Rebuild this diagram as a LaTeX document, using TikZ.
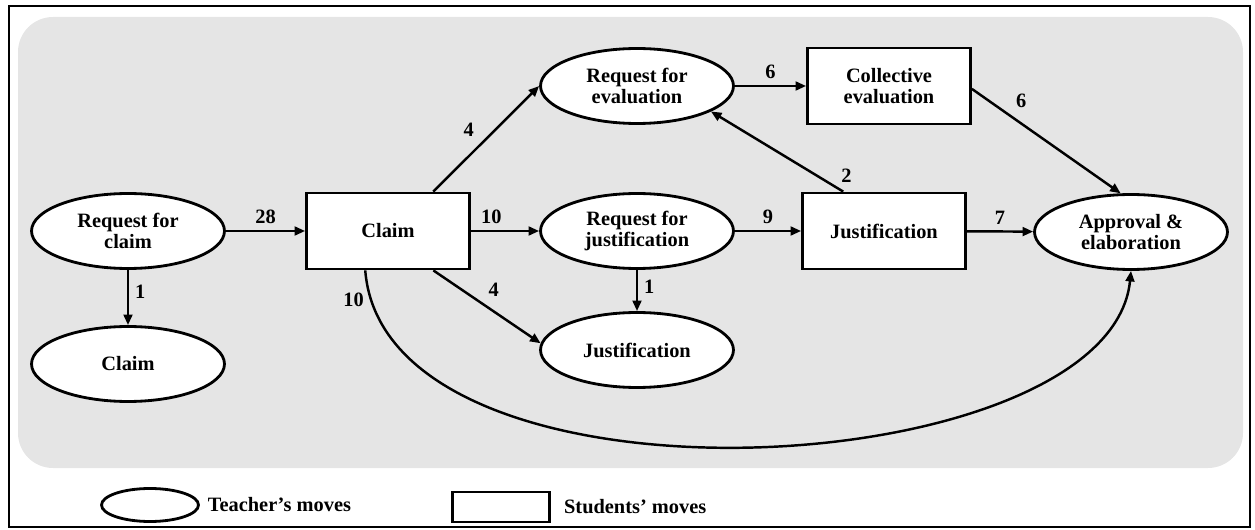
\documentclass[tikz,border=0pt]{standalone}
\usepackage{fontspec}
\setmainfont{Liberation Serif}
\usetikzlibrary{shapes.geometric,arrows.meta,positioning}
\definecolor{panelgray}{RGB}{229,229,229}
\newcommand{\movefont}{\fontsize{11.6}{12.2}\selectfont\bfseries}

\begin{document}
\begin{tikzpicture}[x=0.02cm,y=-0.02cm,
      teacher/.style={ellipse,draw,fill=white,line width=1.6pt,
        minimum width=3.86cm,minimum height=1.5cm,inner sep=0pt,
        align=center,font=\movefont},
      student/.style={rectangle,draw,fill=white,line width=1.6pt,
        minimum width=3.26cm,minimum height=1.52cm,inner sep=0pt,
        align=center,font=\movefont},
      move/.style={-{Triangle[length=6pt,width=5pt]},line width=1.4pt},
      num/.style={font=\movefont},
      ]
      \useasboundingbox (0,0) rectangle (1255,530);
      \draw[line width=1.3pt] (9,6) rectangle (1250,527);
      \fill[panelgray,rounded corners=0.7cm] (18,17) rectangle (1243,468);

      % moves
      \node[teacher] (reqclaim) at (128,231) {Request for\\claim};
      \node[teacher] (claimT) at (128,364) {Claim};
      \node[student] (claimS) at (388,231) {Claim};
      \node[teacher] (reqeval) at (637,86) {Request for\\evaluation};
      \node[teacher] (reqjust) at (637,231) {Request for\\justification};
      \node[teacher] (justT) at (637,350) {Justification};
      \node[student] (colleval) at (889,86) {Collective\\evaluation};
      \node[student] (justS) at (884,231) {Justification};
      \node[teacher] (approval) at (1131,232) {Approval \&\\elaboration};

      % transitions
      \draw[move] (reqclaim) -- node[num,right,pos=0.4] {1} (claimT);
      \draw[move] (reqclaim) -- node[num,above] {28} (claimS);
      \draw[move] (claimS.41) -- node[num,above left,pos=0.45] {4} (reqeval.west);
      \draw[move] (claimS) -- node[num,above,pos=0.3] {10} (reqjust);
      \draw[move] (claimS.-41) -- node[num,above right,pos=0.45] {4} (justT.176);
      \draw[move] (reqjust) -- node[num,right,pos=0.4] {1} (justT);
      \draw[move] (reqeval) -- node[num,above] {6} (colleval);
      \draw[move] (justS.136) -- node[num,right=10pt,pos=0.2] {2} (reqeval.-19);
      \draw[move] (reqjust) -- node[num,above] {9} (justS);
      \draw[move] (colleval.-2) -- node[num,above right,pos=0.25] {6} (approval.105);
      \draw[move] (justS) -- node[num,above] {7} (approval);
      \draw[move] (claimS.-120) .. controls (385,525) and (1110,485) ..
        node[num,left,pos=0.04] {10} (approval.south);

      % legend
      \node[teacher,minimum width=1.94cm,minimum height=0.66cm] (legT) at (150,505) {};
      \node[num,right=1pt of legT] (legTtext) {Teacher’s moves};
      \node[student,minimum width=1.94cm,minimum height=0.6cm] (legS) at (501,507) {};
      \node[num,right=4pt of legS] (legStext) {Students’ moves};
    \end{tikzpicture}
\end{document}
